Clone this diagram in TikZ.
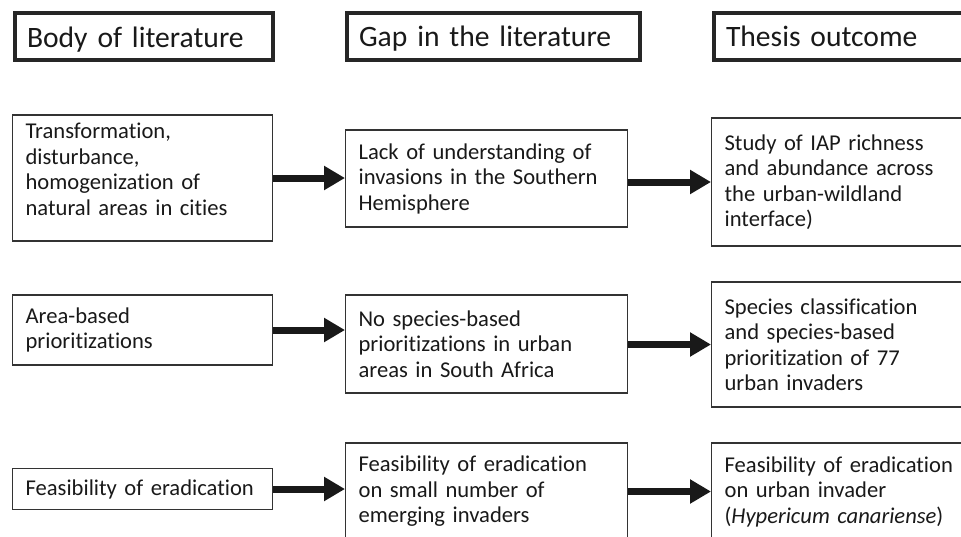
\documentclass[tikz,border=0pt]{standalone}
\usepackage{fontspec}
\setmainfont{Carlito}[Ligatures=NoCommon]
\usetikzlibrary{arrows.meta}

\tikzset{
  head/.style={draw=black!85,line width=2pt,anchor=west,align=left,inner xsep=6pt,inner ysep=2pt,
    text height=13.5pt,text depth=3pt,minimum height=23.5pt,text=black!90,
    font=\fontsize{14.8}{17.8}\selectfont},
  box/.style={draw=black!80,line width=0.6pt,anchor=west,align=left,inner xsep=6.5pt,
    text=black!90,font=\fontsize{11.3}{12.75}\selectfont},
  litbox/.style={box,text width=117pt},
  gapbox/.style={box,text width=128pt},
  outbox/.style={box,text width=127pt},
  flow/.style={-{Triangle[length=10.5pt,width=11.5pt]},line width=3.5pt,black!90}
}

\begin{document}
\begin{tikzpicture}[x=0.5pt,y=-0.5pt]
\useasboundingbox (0,0) rectangle (961,536);
\clip (0,0) rectangle (961,536);
\node[head,text width=117pt] (hlit) at (13,36.5) {Body of literature};
\node[head,text width=134.5pt] (hgap) at (345,36) {Gap in the literature};
\node[head,text width=130pt] (hout) at (712,36) {Thesis outcome};

\node[litbox,minimum height=63pt] (lit1) at (12,178) {Transformation,\\disturbance,\\homogenization of\\natural areas in cities\rule[-9pt]{0pt}{9pt}};
\node[gapbox,minimum height=48.5pt] (gap1) at (345,178.5) {Lack of understanding of\\invasions in the Southern\\Hemisphere};
\node[outbox,minimum height=64pt] (out1) at (711,182) {Study of IAP richness\\and abundance across\\the urban-wildland\\interface)};

\node[litbox,minimum height=35pt] (lit2) at (12,330) {Area-based\\prioritizations};
\node[gapbox,minimum height=49pt] (gap2) at (345,344) {No species-based\\prioritizations in urban\\areas in South Africa};
\node[outbox,minimum height=62.5pt] (out2) at (711,344.5) {Species classification\\and species-based\\prioritization of 77\\urban invaders};

\node[litbox,minimum height=20.5pt] (lit3) at (12,489) {Feasibility of eradication};
\node[gapbox,minimum height=48.5pt] (gap3) at (345,491.5) {Feasibility of eradication\\on small number of\\emerging invaders};
\node[outbox,minimum height=48.5pt] (out3) at (711,491.5) {Feasibility of eradication\\on urban invader\\(\textit{Hypericum canariense})};

\draw[flow] (lit1.east) -- (lit1.east -| gap1.west);
\draw[flow] (gap1.east |- out1.west) -- (out1.west);
\draw[flow] (lit2.east) -- (lit2.east -| gap2.west);
\draw[flow] (gap2.east |- out2.west) -- (out2.west);
\draw[flow] (lit3.east) -- (lit3.east -| gap3.west);
\draw[flow] (gap3.east |- out3.west) -- (out3.west);
\end{tikzpicture}
\end{document}
